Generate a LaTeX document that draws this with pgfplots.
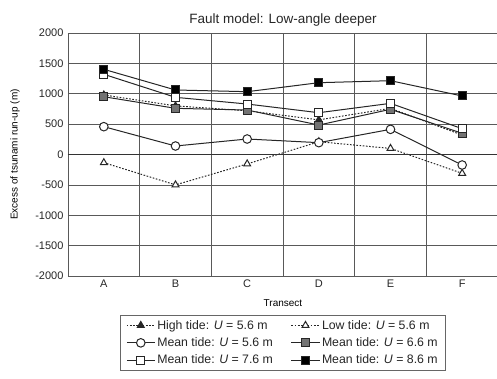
\documentclass[border=0pt]{standalone}
\usepackage{pgfplots}
\pgfplotsset{compat=1.18}
\usepackage{fontspec}
\setmainfont{Liberation Sans}
\begin{document}
\begin{tikzpicture}
\begin{axis}[
  scale only axis,
  width=430pt, height=243pt,
  xmin=-0.5, xmax=5.5,
  ymin=-2000, ymax=2000,
  xtick={0,1,2,3,4,5},
  xticklabels={A,B,C,D,E,F},
  minor xtick={0.5,1.5,2.5,3.5,4.5},
  ytick={-2000,-1500,-1000,-500,0,500,1000,1500,2000},
  xmajorgrids=false,
  xminorgrids=true,
  ymajorgrids=true,
  grid style={black!65, line width=0.7pt},
  minor grid style={black!65, line width=0.7pt},
  axis line style={black!65, line width=0.7pt},
  tick style={draw=none},
  major tick length=0pt, minor tick length=0pt,
  /pgf/number format/assume math mode=true,
  /pgf/number format/1000 sep={},
  tick label style={font=\fontsize{11}{13}\selectfont, text=black!85},
  yticklabel style={xshift=-1pt},
  ylabel={Excess of tsunami run-up (m)},
  xlabel={Transect},
  label style={font=\fontsize{11.5}{13}\selectfont, text=black!85},
  every axis y label/.style={at={(axis description cs:-0.123,0.5)}, rotate=90, anchor=center},
  every axis x label/.style={at={(axis description cs:0.5,-0.111)}, anchor=center},
  title={Fault model: Low-angle deeper},
  every axis title/.style={at={(axis description cs:0.5,1.0535)}, anchor=center, font=\fontsize{13.5}{15}\selectfont, text=black!85},
  legend columns=2,
  legend style={at={(axis description cs:0.5,-0.16)}, anchor=north, draw=black!60, line width=0.7pt,
    font=\fontsize{12.3}{14}\selectfont, text=black!85,
    /tikz/every even column/.append style={column sep=16pt},
    row sep=3pt, inner xsep=6pt, inner ysep=3pt},
  legend image code/.code={\draw[mark repeat=2,mark phase=2] plot coordinates {(0pt,0pt) (14pt,0pt) (28pt,0pt)};},
  legend cell align=left,
]
\addplot[line width=1pt, black!85, dash pattern=on 1.6pt off 1.6pt, mark=triangle*, mark size=4pt, mark options={solid, fill=black!85}]
  coordinates {(0,980) (1,800) (2,720) (3,570) (4,760) (5,320)};
\addlegendentry{High tide: \textit{U} = 5.6 m}
\addplot[line width=1pt, black!85, dash pattern=on 1.6pt off 1.6pt, mark=triangle*, mark size=4pt, mark options={solid, fill=white}]
  coordinates {(0,-135) (1,-500) (2,-155) (3,210) (4,100) (5,-310)};
\addlegendentry{Low tide: \textit{U} = 5.6 m}
\addplot[line width=1pt, black!85, mark=*, mark size=4.3pt, mark options={solid, fill=white}]
  coordinates {(0,458) (1,140) (2,255) (3,195) (4,414) (5,-173)};
\addlegendentry{Mean tide: \textit{U} = 5.6 m}
\addplot[line width=1pt, black!85, mark=square*, mark size=4pt, mark options={solid, fill=black!55}]
  coordinates {(0,951) (1,760) (2,732) (3,485) (4,744) (5,349)};
\addlegendentry{Mean tide: \textit{U} = 6.6 m}
\addplot[line width=1pt, black!85, mark=square*, mark size=4pt, mark options={solid, fill=white}]
  coordinates {(0,1320) (1,941) (2,831) (3,688) (4,842) (5,425)};
\addlegendentry{Mean tide: \textit{U} = 7.6 m}
\addplot[line width=1pt, black!85, mark=square*, mark size=4pt, mark options={solid, fill=black}]
  coordinates {(0,1402) (1,1062) (2,1034) (3,1182) (4,1215) (5,963)};
\addlegendentry{Mean tide: \textit{U} = 8.6 m}
\draw[black!80, line width=1.4pt] (axis cs:-0.5,0) -- (axis cs:5.5,0);
\end{axis}
\pgfresetboundingbox
\useasboundingbox (-68pt,-102pt) rectangle (429pt,276pt);
\end{tikzpicture}
\end{document}
